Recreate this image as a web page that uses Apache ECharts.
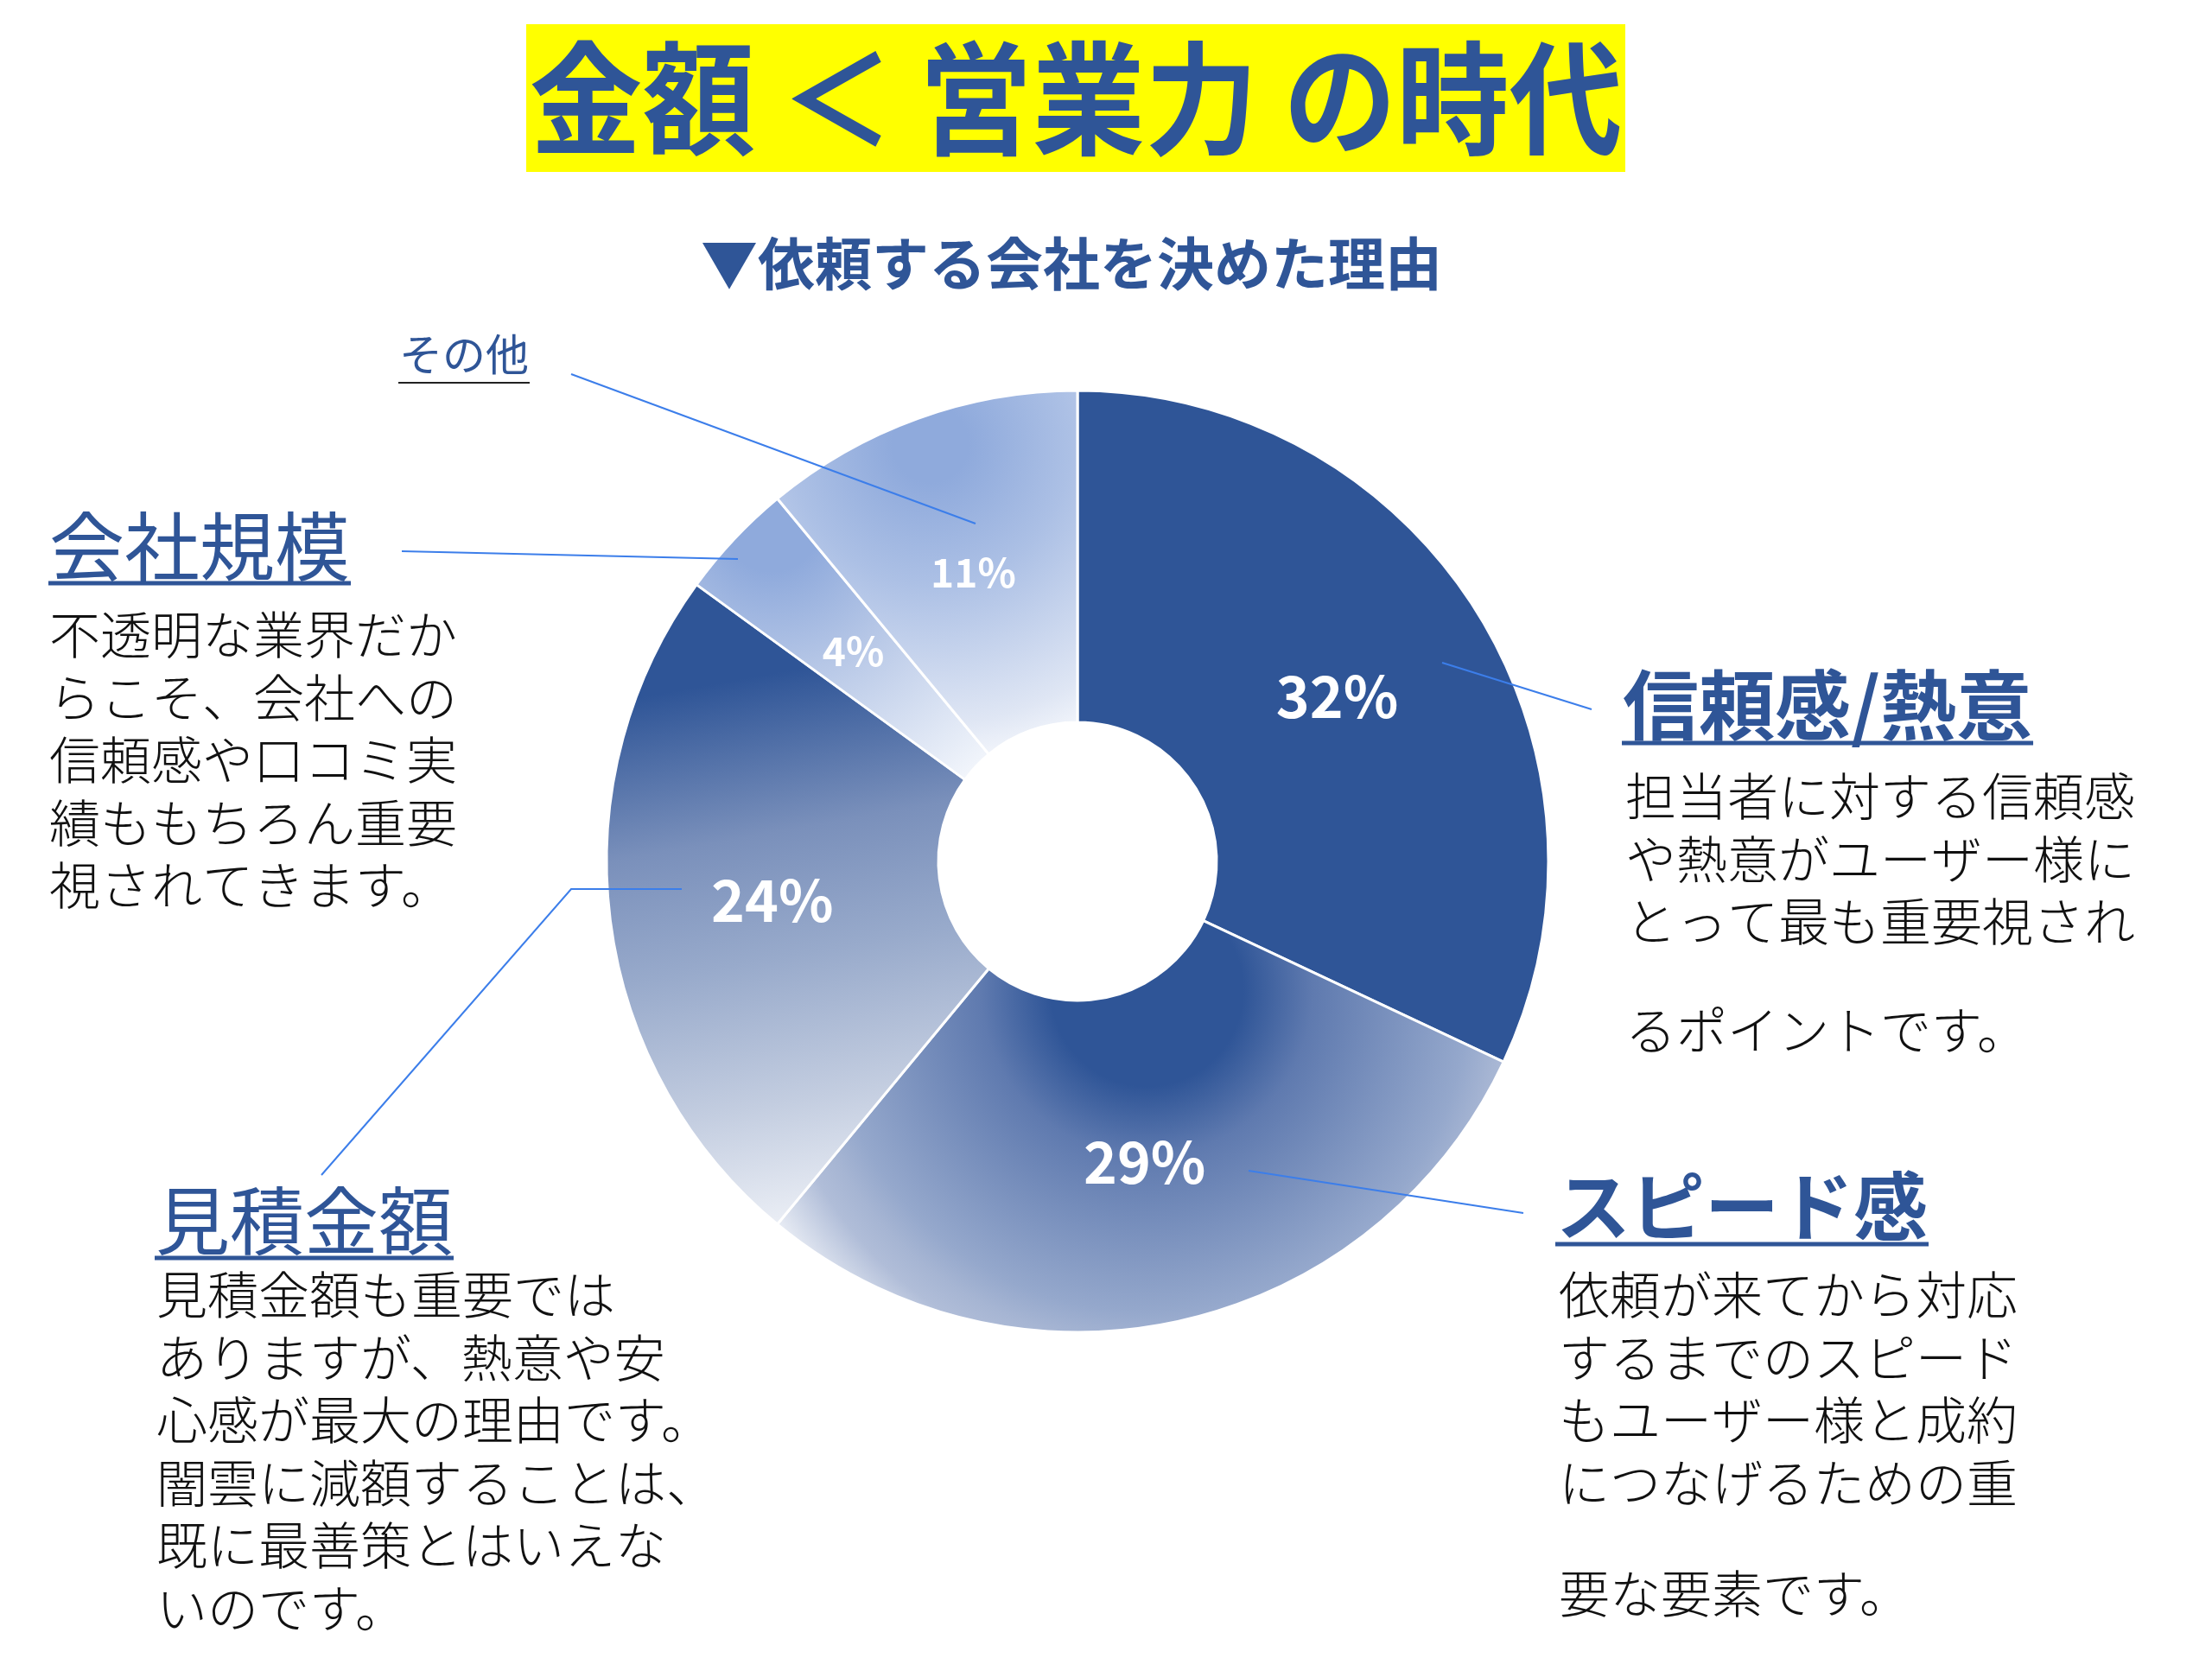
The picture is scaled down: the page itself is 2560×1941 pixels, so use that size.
<!DOCTYPE html>
<html>
<head>
<meta charset="utf-8">
<script src="https://cdn.jsdelivr.net/npm/echarts@6/dist/echarts.min.js"></script>
<style>
  html, body { margin: 0; padding: 0; background: #fff; }
  #main { width: 2560px; height: 1941px; }
</style>
</head>
<body>
<div id="main"></div>
<script>
// --- data ---
const titleText = '金額 ＜ 営業力 の時代';
const subtitleText = '▼依頼する会社を決めた理由';
const categories = ['信頼感/熱意', 'スピード感', '見積金額', '会社規模', 'その他'];
const shares = [32, 29, 24, 4, 11];
const notes = [
    ['担当者に対する信頼感', 'や熱意がユーザー様に', 'とって最も重要視され'],
    ['依頼が来てから対応', 'するまでのスピード', 'もユーザー様と成約', 'につなげるための重'],
    ['見積金額も重要では', 'ありますが、熱意や安', '心感が最大の理由です。', '闇雲に減額することは、', '既に最善策とはいえな', 'いのです。'],
    ['不透明な業界だか', 'らこそ、会社への', '信頼感や口コミ実', '績ももちろん重要', '視されてきます。'],
    []
];
const noteTails = ['るポイントです。', '要な要素です。', '', '', ''];

// --- styles ---
const BLUE = '#2F5597';
const LEADER = '#3C7EEA';
const FONT = '"Noto Sans CJK JP", "Noto Sans", sans-serif';

const sliceFills = [
    BLUE,
    {
        type: 'radial', x: 0.509, y: 0.171, r: 1.08,
        colorStops: [
            {offset: 0, color: '#2F5597'},
            {offset: 0.215, color: '#2F5597'},
            {offset: 0.37, color: '#5F7AAF'},
            {offset: 0.72, color: '#95A8CC'},
            {offset: 0.79, color: '#A6B5D3'},
            {offset: 0.85, color: '#B0BDD8'},
            {offset: 0.99, color: '#EEF1F7'},
            {offset: 1, color: '#F2F4F9'}
        ]
    },
    {
        type: 'linear', x: 0.3, y: 0, x2: 0.6, y2: 1,
        colorStops: [
            {offset: 0, color: '#2F5597'},
            {offset: 0.15, color: '#2F5597'},
            {offset: 0.39, color: '#7A90BB'},
            {offset: 0.58, color: '#98AACB'},
            {offset: 0.8, color: '#C3CDE0'},
            {offset: 1, color: '#EEF1F7'}
        ]
    },
    {
        type: 'radial', x: 0.26, y: 0.09, r: 1.15,
        colorStops: [
            {offset: 0, color: '#8FAADC'},
            {offset: 0.15, color: '#8FAADC'},
            {offset: 0.45, color: '#B5C6E6'},
            {offset: 1, color: '#F4F7FC'}
        ]
    },
    {
        type: 'radial', x: 0.51, y: 0.15, r: 1.05,
        colorStops: [
            {offset: 0, color: '#8FAADC'},
            {offset: 0.12, color: '#8FAADC'},
            {offset: 0.44, color: '#ACC0E5'},
            {offset: 0.88, color: '#DFE6F4'},
            {offset: 1, color: '#F2F5FB'}
        ]
    }
];

// callout layout, same order as categories
const callouts = [
    {hx: 1878, hy: 816, size: 88, weight: 'bold', ulY: 860, bx: 1881, by: 922, tailY: 1193,
        leader: [[1669, 767], [1842, 821]]},
    {hx: 1801, hy: 1396, size: 86, weight: 'bold', ulY: 1440, bx: 1804, by: 1499, tailY: 1845,
        leader: [[1445, 1355], [1763, 1404]]},
    {hx: 180, hy: 1413, size: 86, weight: 'normal', ulY: 1456, bx: 181, by: 1499,
        leader: [[789, 1029], [661, 1029], [372, 1360]]},
    {hx: 57, hy: 633, size: 87, weight: 'normal', ulY: 675, bx: 57, by: 735,
        leader: [[854, 647], [465, 638]]},
    {hx: 462, hy: 410, size: 50, weight: 'normal', ulY: 443, ulColor: '#222', ulWidth: 2,
        leader: [[1129, 606], [661, 433]]}
];

const BODY_SIZE = 59;
const LINE_H = 72.5;

const measureCtx = document.createElement('canvas').getContext('2d');
function textWidth(text, size, weight) {
    measureCtx.font = weight + ' ' + size + 'px ' + FONT;
    return measureCtx.measureText(text).width;
}

let graphics = [
    {
        type: 'rect', z: 10,
        shape: {x: 609, y: 28, width: 1272, height: 171},
        style: {fill: '#FFFF00'}
    },
    {
        type: 'text', z: 11, x: 1245, y: 114, scaleX: 0.92,
        style: {
            text: titleText, fill: BLUE, font: 'bold 142px ' + FONT,
            textAlign: 'center', textVerticalAlign: 'middle'
        }
    },
    {
        type: 'text', z: 11, x: 1240, y: 305,
        style: {
            text: subtitleText, fill: BLUE, font: 'bold 66px ' + FONT,
            textAlign: 'center', textVerticalAlign: 'middle'
        }
    }
];

callouts.forEach((c, i) => {
    let w = textWidth(categories[i], c.size, c.weight);
    graphics.push({
        type: 'polyline', z: 20,
        shape: {points: c.leader},
        style: {stroke: LEADER, lineWidth: 2, fill: null}
    });
    graphics.push({
        type: 'text', z: 11, x: c.hx, y: c.hy,
        style: {
            text: categories[i], fill: BLUE, font: c.weight + ' ' + c.size + 'px ' + FONT,
            textAlign: 'left', textVerticalAlign: 'middle'
        }
    });
    graphics.push({
        type: 'line', z: 11,
        shape: {x1: c.hx - 1, y1: c.ulY, x2: c.hx + w + 1, y2: c.ulY},
        style: {stroke: c.ulColor || BLUE, lineWidth: c.ulWidth || 5}
    });
    if (notes[i].length) {
        graphics.push({
            type: 'text', z: 11, x: c.bx, y: c.by - LINE_H / 2,
            style: {
                text: notes[i].join('\n'), fill: '#111', font: '300 ' + BODY_SIZE + 'px ' + FONT,
                lineHeight: LINE_H, textAlign: 'left', textVerticalAlign: 'top'
            }
        });
    }
    if (noteTails[i]) {
        graphics.push({
            type: 'text', z: 11, x: c.bx, y: c.tailY,
            style: {
                text: noteTails[i], fill: '#111', font: '300 ' + BODY_SIZE + 'px ' + FONT,
                textAlign: 'left', textVerticalAlign: 'middle'
            }
        });
    }
});

let chart = echarts.init(document.getElementById('main'), null, {renderer: 'canvas'});
chart.setOption({
    backgroundColor: '#fff',
    animation: false,
    graphic: {elements: graphics},
    series: [{
        type: 'pie',
        center: [1247, 997],
        radius: [161, 545],
        startAngle: 90,
        clockwise: true,
        silent: true,
        avoidLabelOverlap: false,
        itemStyle: {borderColor: '#fff', borderWidth: 3},
        label: {
            show: true, position: 'inside', formatter: '{c}%',
            color: '#fff', fontWeight: 'bold', fontFamily: FONT, fontSize: 66
        },
        labelLine: {show: false},
        emphasis: {disabled: true},
        data: categories.map((name, i) => ({
            name: name,
            value: shares[i],
            itemStyle: {color: sliceFills[i]},
            label: {fontSize: shares[i] < 15 ? 46 : 66}
        }))
    }]
});
</script>
</body>
</html>
